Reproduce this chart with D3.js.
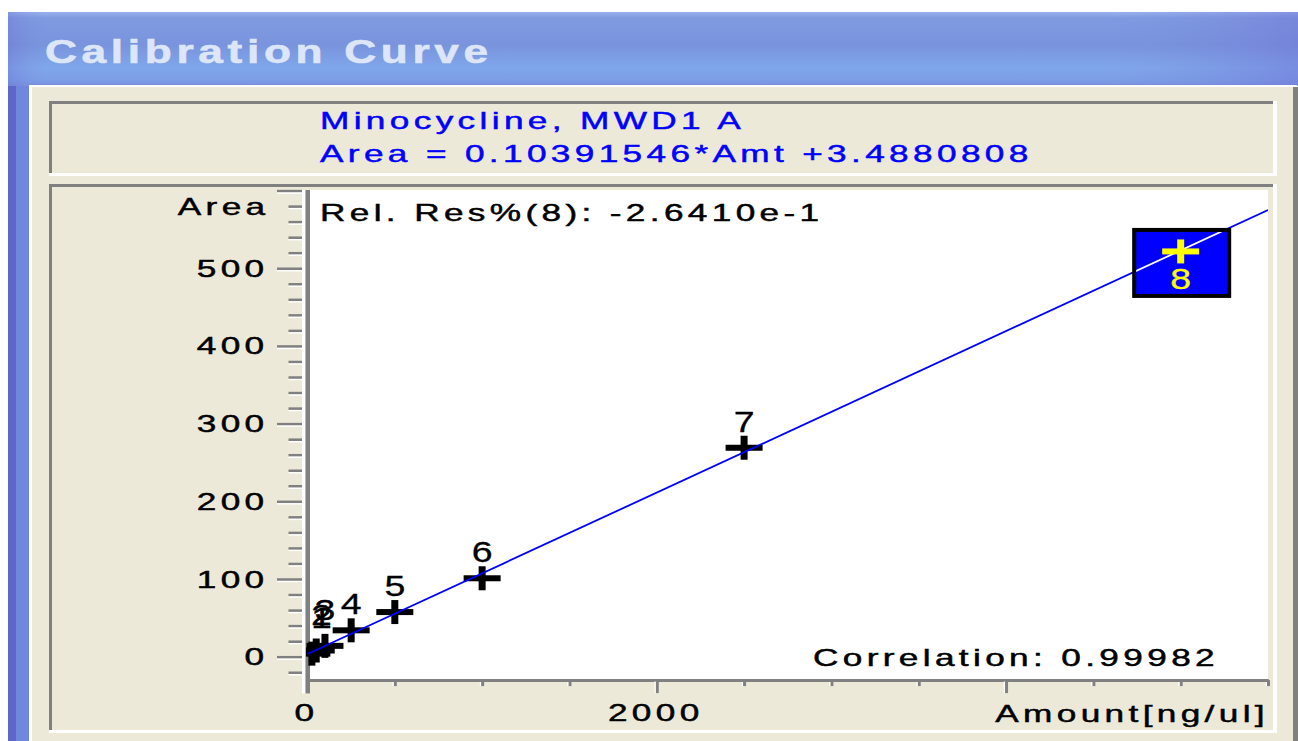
<!DOCTYPE html>
<html>
<head>
<meta charset="utf-8">
<script src="https://cdn.jsdelivr.net/npm/d3@7"></script>
<style>
  body { margin: 0; background: #fff; }
  svg { display: block; }
</style>
</head>
<body>
<div id="chart"></div>
<script>
"use strict";

  // donnees de la courbe d'etalonnage
  var amounts = [25, 50, 100, 250, 500, 1000, 2500, 5000]; // Amount [ng/ul]
  var areas = [4, 8, 14, 34, 57.5, 101, 269, 521.7];       // Area
  var levels = ["1", "2", "3", "4", "5", "6", "7", "8"];
  var slope = 0.10391546;
  var intercept = 3.4880808;
  var compound = "Minocycline, MWD1 A";
  var relRes = "-2.6410e-1";
  var correlation = "0.99982";
  var selected = 7; // niveau mis en evidence (8)
  var yMajor = [0, 100, 200, 300, 400, 500, 600];
  var yLabels = [0, 100, 200, 300, 400, 500];
  var xMajor = [0, 2000, 4000];
  var xMinor = [0, 500, 1000, 1500, 2000, 2500, 3000, 3500, 4000, 4500, 5000, 5500];
  var yMinor = d3.range(-20, 601, 20);

  var larg = 1298, haut = 741;
  var beige = "#ece9d8", gris = "#808080";

  var x = d3.scaleLinear().domain([0, 5500]).range([307.5, 1268]);
  var y = d3.scaleLinear().domain([-32, 600]).range([681.6, 190.6]);

  var svg = d3.select("#chart").append("svg")
    .attr("width", larg)
    .attr("height", haut);

  var defs = svg.append("defs");

  // texte "bitmap" etire horizontalement
  function texte(parent, str, px, py, o) {
    o = o || {};
    var coul = o.fill || "#000";
    return parent.append("text")
      .attr("transform", "translate(" + px + "," + py + ") scale(" + (o.sx || 1.53) + ",1)")
      .attr("text-anchor", o.anchor || "start")
      .attr("font-family", "'Liberation Sans', Arial, sans-serif")
      .attr("font-size", (o.size || 23) + "px")
      .attr("font-weight", o.weight || "normal")
      .style("letter-spacing", (o.ls == null ? 2.85 : o.ls) + "px")
      .attr("fill", coul)
      .attr("stroke", coul)
      .attr("stroke-width", o.sw == null ? 0.45 : o.sw)
      .text(str);
  }

  // cadre en creux (gris en haut/gauche, blanc en bas/droite)
  function cadre(x0, y0, w, h) {
    svg.append("rect").attr("x", x0).attr("y", y0).attr("width", w).attr("height", h).attr("fill", beige);
    svg.append("line").attr("x1", x0).attr("x2", x0 + w - 4).attr("y1", y0 + 1.5).attr("y2", y0 + 1.5)
      .attr("stroke", gris).attr("stroke-width", 3);
    svg.append("line").attr("x1", x0 + 1.5).attr("x2", x0 + 1.5).attr("y1", y0).attr("y2", y0 + h - 2)
      .attr("stroke", gris).attr("stroke-width", 3);
    svg.append("line").attr("x1", x0).attr("x2", x0 + w).attr("y1", y0 + h - 1.5).attr("y2", y0 + h - 1.5)
      .attr("stroke", "#fff").attr("stroke-width", 3);
    svg.append("line").attr("x1", x0 + w - 2).attr("x2", x0 + w - 2).attr("y1", y0).attr("y2", y0 + h)
      .attr("stroke", "#fff").attr("stroke-width", 4);
  }

  // fenetre
  var grad = defs.append("linearGradient").attr("id", "barre").attr("x1", 0).attr("y1", 0).attr("x2", 0).attr("y2", 1);
  [["0%", "#9ab2ee"], ["8%", "#7f9be0"], ["45%", "#7994dd"], ["75%", "#80a6ea"], ["92%", "#7c9ee6"], ["100%", "#7890dc"]]
    .forEach(function(s){ grad.append("stop").attr("offset", s[0]).attr("stop-color", s[1]); });
  var gradH = defs.append("linearGradient").attr("id", "barreH").attr("x1", 0).attr("y1", 0).attr("x2", 1).attr("y2", 0);
  [["0%", "#6a6ad0", 0.35], ["3%", "#7a90dc", 0], ["85%", "#7a90dc", 0], ["100%", "#6f6fd6", 0.45]]
    .forEach(function(s){ gradH.append("stop").attr("offset", s[0]).attr("stop-color", s[1]).attr("stop-opacity", s[2]); });

  svg.append("rect").attr("width", larg).attr("height", haut).attr("fill", "#fff");
  svg.append("rect").attr("x", 8).attr("y", 12).attr("width", 22).attr("height", haut - 12).attr("fill", "#7088dc");
  svg.append("rect").attr("x", 8).attr("y", 12).attr("width", 8).attr("height", haut - 12).attr("fill", "#5e66c8");
  svg.append("rect").attr("x", 8).attr("y", 12).attr("width", 1290).attr("height", 74).attr("fill", "url(#barre)");
  svg.append("rect").attr("x", 8).attr("y", 12).attr("width", 1290).attr("height", 74).attr("fill", "url(#barreH)");
  svg.append("rect").attr("x", 29).attr("y", 85).attr("width", 1268).attr("height", haut - 85).attr("fill", "#fff");
  svg.append("rect").attr("x", 32).attr("y", 87).attr("width", 1261).attr("height", haut - 87).attr("fill", beige);
  svg.append("rect").attr("x", 1293).attr("y", 87).attr("width", 5).attr("height", haut - 87).attr("fill", gris);

  texte(svg, "Calibration Curve", 45, 63, {size: 34, weight: "bold", sx: 1.3, ls: 3.6, fill: "#dce6f8", sw: 0.6});

  // entete
  cadre(49, 101, 1228, 75);
  texte(svg, compound, 320, 129, {fill: "#0000ff"});
  texte(svg, "Area = " + slope + "*Amt +" + intercept, 320, 162, {fill: "#0000ff"});

  // zone du trace
  cadre(49, 184, 1228, 549);
  var x0 = x.range()[0], x1 = x.range()[1], yTop = y.range()[1], yBas = y.range()[0];
  svg.append("rect").attr("x", x0 + 2.5).attr("y", yTop - 0.6).attr("width", x1 - x0 - 2.5).attr("height", yBas - yTop)
    .attr("fill", "#fff");

  // axe Y
  svg.append("rect").attr("x", x0 - 5.5).attr("y", yTop - 0.6).attr("width", 3.5).attr("height", 694 - yTop)
    .attr("fill", "#fff");
  svg.append("rect").attr("x", x0 - 2).attr("y", yTop - 0.6).attr("width", 4.5).attr("height", 694 - yTop)
    .attr("fill", gris);

  function axeY(valeurs, taille) {
    var g = svg.append("g").attr("transform", "translate(" + (x0 - 5.5) + ",0)")
      .call(d3.axisLeft(y).tickValues(valeurs).tickSize(taille).tickSizeOuter(0).tickFormat(""));
    g.select(".domain").remove();
    g.selectAll(".tick line").attr("stroke", gris).attr("stroke-width", 2.6);
    g.selectAll(".tick").append("line").attr("x2", -taille).attr("y1", 2).attr("y2", 2)
      .attr("stroke", "#fff").attr("stroke-width", 1.4);
  }
  axeY(yMinor.filter(function(v){ return yMajor.indexOf(v) < 0; }), 13.5);
  axeY(yMajor, 25);

  yLabels.forEach(function(v){
    texte(svg, String(v), x0 - 39, y(v) + 8.5, {anchor: "end"});
  });
  texte(svg, "Area", x0 - 38, yTop + 24.5, {anchor: "end"});

  // axe X
  function axeX(valeurs, taille) {
    var g = svg.append("g").attr("transform", "translate(0," + (yBas - 1.5) + ")")
      .call(d3.axisBottom(x).tickValues(valeurs).tickSize(taille).tickSizeOuter(0).tickFormat(""));
    g.select(".domain").attr("stroke", gris).attr("stroke-width", 3);
    g.selectAll(".tick line").attr("stroke", gris).attr("stroke-width", 3);
    g.selectAll(".tick").append("line").attr("x1", -2.2).attr("x2", -2.2).attr("y1", 1.5).attr("y2", taille)
      .attr("stroke", "#fff").attr("stroke-width", 1.2);
  }
  axeX(xMinor.filter(function(v){ return xMajor.indexOf(v) < 0; }), 6);
  axeX(xMajor.filter(function(v){ return v > 0; }), 13);

  xMajor.filter(function(v){ return v < 4000; }).forEach(function(v){
    texte(svg, String(v), x(v) - 1, 721, {anchor: "middle"});
  });
  texte(svg, "Amount[ng/ul]", x1 + 1, 722, {anchor: "end"});

  // annotations
  texte(svg, "Rel. Res%(" + levels[selected] + "): " + relRes, x0 + 12.5, yTop + 30.5);
  texte(svg, "Correlation: " + correlation, x1 - 49, yBas - 15.5, {anchor: "end"});

  // points et droite
  defs.append("clipPath").attr("id", "clipTrace").append("rect")
    .attr("x", x0 - 1.5).attr("y", yTop).attr("width", x1 - x0 + 1.5).attr("height", yBas - 1.5 - yTop);
  var trace = svg.append("g").attr("clip-path", "url(#clipTrace)");

  var data = amounts.map(function(a, i){ return {amt: a, area: areas[i], lvl: levels[i], sel: i === selected}; });

  function croix(g, couleur) {
    g.append("rect").attr("x", -18.5).attr("y", -3).attr("width", 37).attr("height", 6).attr("fill", couleur);
    g.append("rect").attr("x", -3.5).attr("y", -12).attr("width", 7).attr("height", 24).attr("fill", couleur);
  }

  trace.selectAll("g.croix")
    .data(data.filter(function(d){ return !d.sel; }))
    .enter()
    .append("g")
      .attr("class", "croix")
      .attr("transform", function(d){ return "translate(" + x(d.amt) + "," + y(d.area) + ")"; })
      .each(function(){ croix(d3.select(this), "#000"); });

  var droite = d3.line()
    .x(function(a){ return x(a); })
    .y(function(a){ return y(slope * a + intercept); });
  trace.append("path").datum(x.domain())
    .attr("d", droite)
    .attr("fill", "none")
    .attr("stroke", "#0000ff")
    .attr("stroke-width", 1.8);

  // niveau selectionne
  var ds = data[selected];
  var cx = x(ds.amt), cy = y(ds.area);
  trace.append("rect").attr("x", cx - 46.5).attr("y", cy - 21.5).attr("width", 95).attr("height", 66)
    .attr("fill", "#0000ff").attr("stroke", "#000").attr("stroke-width", 4);
  defs.append("clipPath").attr("id", "clipBoite").append("rect")
    .attr("x", cx - 44.5).attr("y", cy - 19.5).attr("width", 91).attr("height", 62);
  svg.append("path").datum(x.domain())
    .attr("clip-path", "url(#clipBoite)")
    .attr("d", droite)
    .attr("fill", "none")
    .attr("stroke", "#fff")
    .attr("stroke-width", 1.8);
  croix(svg.append("g").attr("transform", "translate(" + cx + "," + cy + ")"), "#ffff00");

  // numeros des niveaux (ceux colles a l'axe sont remontes)
  data.forEach(function(d){
    var px = Math.max(x(d.amt), x0 + 14);
    var py = d.sel ? y(d.area) + 38 : y(d.area) - 16;
    if (!d.sel && x(d.amt) - x0 < 20) py -= 10;
    texte(svg, d.lvl, px, py, {anchor: "middle", size: 30, sx: 1.25, ls: 0, sw: 0.3, fill: d.sel ? "#ffff00" : "#000"});
  });
</script>
</body>
</html>
